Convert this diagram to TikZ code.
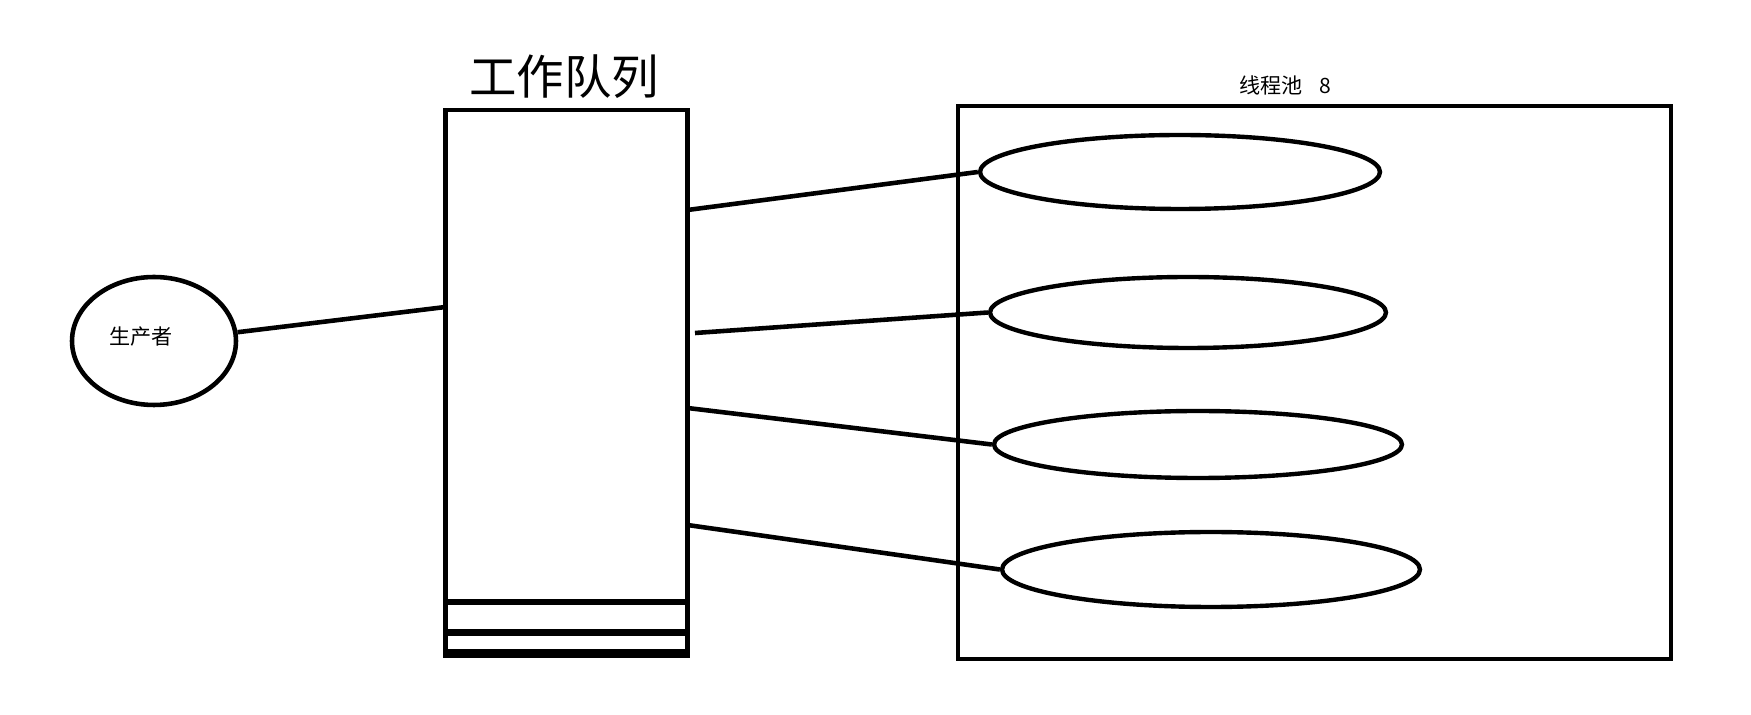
\documentclass[tikz,border=0pt]{standalone}
\usepackage{fontspec}
\setmainfont{Noto Sans CJK SC}
\usetikzlibrary{shapes.geometric,positioning}
\tikzset{
  queuebox/.style={rectangle,draw=black,line width=2.7pt,inner sep=0pt,
    minimum width=4.84cm,minimum height=10.87cm},
  poolbox/.style={rectangle,draw=black,line width=2.7pt,inner sep=0pt,
    minimum width=14.26cm,minimum height=11.06cm},
  producernode/.style={ellipse,draw=black,line width=2.6pt,inner sep=0pt},
  workernode/.style={ellipse,draw=black,line width=2.5pt,inner sep=0pt},
  bigtitle/.style={inner sep=0pt,font=\fontsize{27pt}{32pt}\selectfont},
  smalltitle/.style={inner sep=0pt,font=\fontsize{12pt}{14pt}\selectfont},
  slotline/.style={line width=#1,black},
  linkedge/.style={line width=2.6pt,black}
}
\begin{document}
\begin{tikzpicture}[x=0.02cm,y=-0.02cm]
  \useasboundingbox (0,0) rectangle (1751,715);

  \node[queuebox] (queue) at (566.5,381.75) {};
  \node[bigtitle] (queuetitle) at (564,77) {工作队列};
  \draw[slotline=2.9pt] (445.5,602) -- (687.5,602);
  \draw[slotline=4pt] (445.5,632.5) -- (687.5,632.5);
  \draw[slotline=5.1pt] (443,653.5) -- (690,653.5);

  \node[poolbox] (pool) at (1314.5,382.5) {};
  \node[smalltitle] (pooltitle) at (1285,85) {线程池\hspace{0.8em}8};

  \node[producernode,minimum width=3.28cm,minimum height=2.56cm]
    (producer) at (154,341) {};
  \node[smalltitle] (producerlabel) at (141,337) {生产者};

  \node[workernode,minimum width=8cm,minimum height=1.48cm]
    (worker1) at (1180,172) {};
  \node[workernode,minimum width=7.92cm,minimum height=1.42cm]
    (worker2) at (1188,312.5) {};
  \node[workernode,minimum width=8.16cm,minimum height=1.34cm]
    (worker3) at (1198,444.5) {};
  \node[workernode,minimum width=8.36cm,minimum height=1.5cm]
    (worker4) at (1211,569.5) {};

  \coordinate (qin) at (445.5,307);
  \coordinate (qout1) at (687.5,210);
  \coordinate (qout2) at (695,333);
  \coordinate (qout3) at (687.5,408);
  \coordinate (qout4) at (687.5,525);

  \draw[linkedge] (producer.6) -- (qin);
  \draw[linkedge] (qout1) -- (worker1.west);
  \draw[linkedge] (qout2) -- (worker2.west);
  \draw[linkedge] (qout3) -- (worker3.west);
  \draw[linkedge] (qout4) -- (worker4.west);
\end{tikzpicture}
\end{document}
